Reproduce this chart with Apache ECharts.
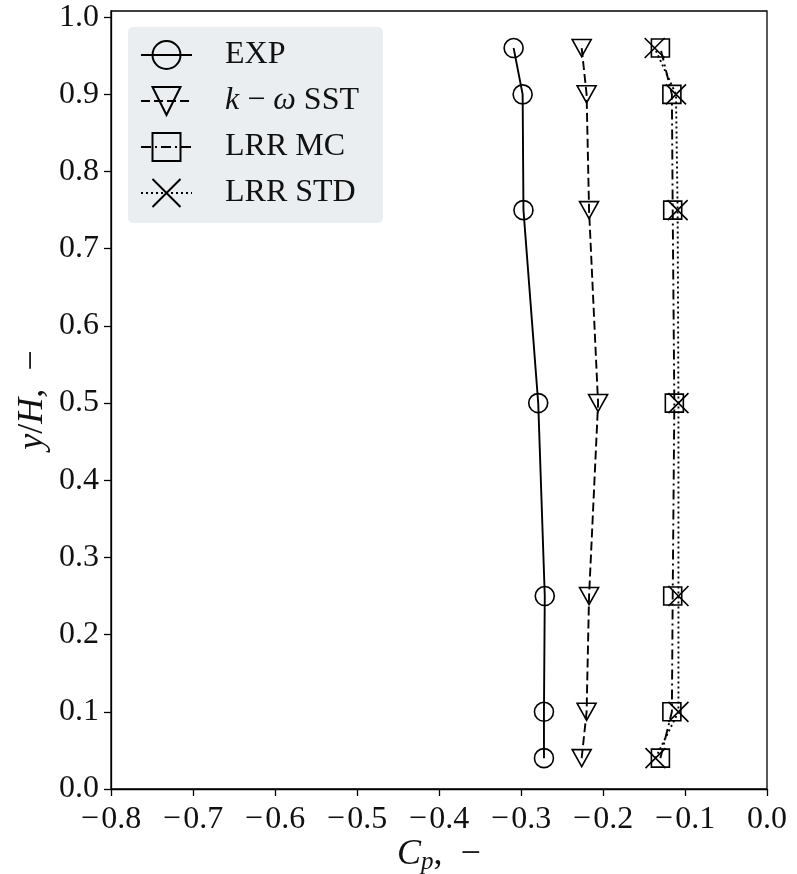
<!DOCTYPE html>
<html>
<head>
<meta charset="utf-8">
<script src="https://cdn.jsdelivr.net/npm/echarts@6/dist/echarts.min.js"></script>
<style>
html,body{margin:0;padding:0;background:#fff;}
#c{width:797px;height:874px;}
</style>
</head>
<body>
<div id="c"></div>
<script>
// ---- data ----
const yPos = [0.04, 0.1, 0.25, 0.5, 0.75, 0.9, 0.96];
const cpEXP = [-0.272, -0.272, -0.271, -0.279, -0.297, -0.298, -0.309];
const cpSST = [-0.226, -0.220, -0.217, -0.206, -0.217, -0.220, -0.226];
const cpLRRMC = [-0.130, -0.116, -0.115, -0.113, -0.115, -0.116, -0.130];
const cpLRRSTD = [-0.136, -0.108, -0.108, -0.108, -0.109, -0.111, -0.137];
const seriesNames = ['EXP', 'k − ω SST', 'LRR MC', 'LRR STD'];
const yTickValues = [0.0, 0.1, 0.2, 0.3, 0.4, 0.5, 0.6, 0.7, 0.8, 0.9, 1.0];
const xTickValues = [-0.8, -0.7, -0.6, -0.5, -0.4, -0.3, -0.2, -0.1, 0.0];

const FONT = 'Liberation Serif';
const FS = 32;
const TFS = 36;

function pairs(xs, ys) { return xs.map((x, i) => [x, ys[i]]); }
function fmt(v) {
  const s = Math.abs(v).toFixed(1);
  return (v < -1e-9 ? '−\u200A' : '') + s;
}

const chart = echarts.init(document.getElementById('c'), null, {renderer: 'canvas'});

const baseSeries = (name, xs, sym, size, lineType) => ({
  name: name,
  type: 'line',
  data: pairs(xs, yPos),
  symbol: sym,
  symbolSize: size,
  showSymbol: true,
  clip: false,
  lineStyle: {color: '#000', width: 1.9, type: lineType},
  itemStyle: {color: 'transparent', borderColor: '#000', borderWidth: 1.6},
  emphasis: {disabled: true},
  z: 2
});

const legendRich = {
  r: {fontFamily: FONT, fontSize: FS, color: '#111', lineHeight: 35},
  i: {fontFamily: FONT, fontSize: FS, fontStyle: 'italic', color: '#111', lineHeight: 35}
};

chart.setOption({
  animation: false,
  backgroundColor: '#fff',
  grid: {
    left: 111, right: 30, top: 11, bottom: 85,
    containLabel: false,
    outerBoundsMode: 'none',
    show: true, borderColor: '#000', borderWidth: 1.3, backgroundColor: 'transparent'
  },
  legend: {
    orient: 'vertical',
    left: 128, top: 27,
    padding: [12, 24, 14, 12],
    itemGap: 14,
    itemWidth: 51,
    itemHeight: 35,
    backgroundColor: '#eaeef0',
    borderRadius: 5,
    data: seriesNames,
    selectedMode: false,
    textStyle: {fontFamily: FONT, fontSize: FS, color: '#111', padding: [0, 0, 0, 28], rich: legendRich},
    formatter: function (name) {
      if (name === 'k − ω SST') return '{i|k}{r| − }{i|ω}{r| SST}';
      return '{r|' + name + '}';
    }
  },
  xAxis: {
    type: 'value',
    min: -0.8, max: 0.0, interval: 0.1,
    name: '{i|C}{s|p}{r|,  −}',
    nameLocation: 'middle',
    nameGap: 46,
    nameMoveOverlap: false,
    nameTextStyle: {
      rich: {
        i: {fontFamily: FONT, fontSize: TFS, fontStyle: 'italic', color: '#111', lineHeight: 40},
        s: {fontFamily: FONT, fontSize: 25, fontStyle: 'italic', color: '#111', lineHeight: 24, verticalAlign: 'bottom'},
        r: {fontFamily: FONT, fontSize: TFS, color: '#111', lineHeight: 40}
      }
    },
    splitLine: {show: false},
    axisLine: {show: true, onZero: false, lineStyle: {color: '#000', width: 1.3}},
    axisTick: {show: true, inside: false, length: 7, lineStyle: {color: '#000', width: 1.3}, customValues: xTickValues},
    axisLabel: {
      customValues: xTickValues,
      margin: 15, fontFamily: FONT, fontSize: FS, color: '#111',
      formatter: fmt
    }
  },
  yAxis: {
    type: 'value',
    min: 0, max: 1.008,
    name: '{i|y}{r|/}{i|H}{r|,  −}',
    nameLocation: 'middle',
    nameRotate: 90,
    nameGap: 60,
    nameMoveOverlap: false,
    nameTextStyle: {
      rich: {
        i: {fontFamily: FONT, fontSize: TFS, fontStyle: 'italic', color: '#111'},
        r: {fontFamily: FONT, fontSize: TFS, color: '#111'}
      }
    },
    splitLine: {show: false},
    axisLine: {show: true, onZero: false, lineStyle: {color: '#000', width: 1.3}},
    axisTick: {show: true, inside: false, length: 7, lineStyle: {color: '#000', width: 1.3}, customValues: yTickValues},
    axisLabel: {
      customValues: yTickValues,
      margin: 12, fontFamily: FONT, fontSize: FS, color: '#111',
      formatter: fmt
    }
  },
  series: [
    baseSeries(seriesNames[0], cpEXP, 'circle', 19, 'solid'),
    baseSeries(seriesNames[1], cpSST, 'path://M0,0L20,0L10,18Z', [19, 17], [9, 4]),
    baseSeries(seriesNames[2], cpLRRMC, 'rect', 18, [10, 4, 2, 4]),
    baseSeries(seriesNames[3], cpLRRSTD, 'path://M0,0L10,10M10,0L0,10', 20, [2, 3])
  ]
});
</script>
</body>
</html>
